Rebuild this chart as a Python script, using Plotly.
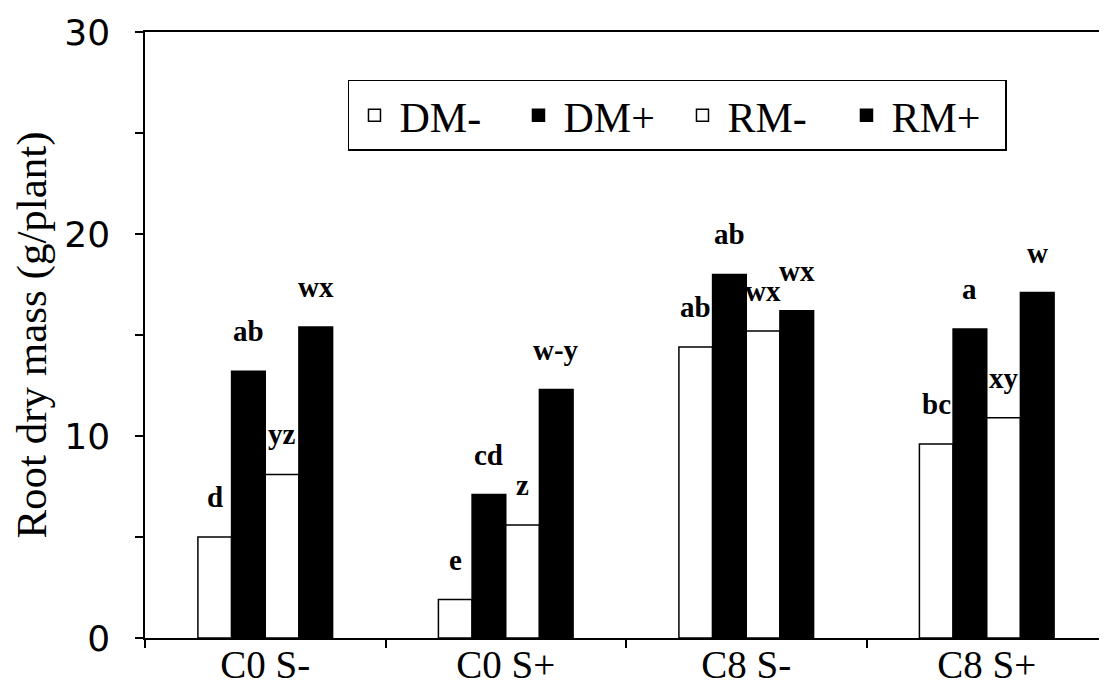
import plotly.graph_objects as go

categories = ["C0 S-", "C0 S+", "C8 S-", "C8 S+"]
series_names = ["DM-", "DM+", "RM-", "RM+"]
dm_minus = [5.0, 1.9, 14.4, 9.6]
dm_plus = [13.2, 7.1, 18.0, 15.3]
rm_minus = [8.1, 5.6, 15.2, 10.9]
rm_plus = [15.4, 12.3, 16.2, 17.1]
letters_dm_minus = ["d", "e", "ab", "bc"]
letters_dm_plus = ["ab", "cd", "ab", "a"]
letters_rm_minus = ["yz", "z", "wx", "xy"]
letters_rm_plus = ["wx", "w-y", "wx", "w"]
y_ticks = [0, 10, 20, 30]

series_values = [dm_minus, dm_plus, rm_minus, rm_plus]
series_letters = [letters_dm_minus, letters_dm_plus, letters_rm_minus, letters_rm_plus]
fills = ["white", "black", "white", "black"]

FONT = "Liberation Serif, Times New Roman, serif"
NUMFONT = "DejaVu Sans, sans-serif"
BARGAP = 0.44

fig = go.Figure()
for name, vals, fc in zip(series_names, series_values, fills):
    fig.add_trace(go.Bar(
        x=categories, y=vals, name=name,
        marker=dict(color=fc, line=dict(color="black", width=1.5)),
    ))

# significance letters above bars
n = len(series_names)
bw = (1 - BARGAP) / n
for k, (vals, labs) in enumerate(zip(series_values, series_letters)):
    for i, (v, lab) in enumerate(zip(vals, labs)):
        fig.add_annotation(
            x=i + (k - (n - 1) / 2) * bw, y=v, xref="x", yref="y",
            text=lab, showarrow=False, yanchor="bottom", yshift=22,
            font=dict(family=FONT, size=29, color="black", weight="bold"),
        )

# the page body adds an 8 px offset, so the figure is sized to fit inside it
fig.update_layout(
    width=1099, height=682,
    margin=dict(l=137, r=0, t=24, b=52, autoexpand=False),
    paper_bgcolor="white", plot_bgcolor="white",
    barmode="group", bargap=BARGAP, bargroupgap=0,
    font=dict(family=FONT, color="black"),
    showlegend=True,
    legend=dict(
        orientation="h", x=0.211, y=0.921, xanchor="left", yanchor="top",
        bordercolor="black", borderwidth=1.5, bgcolor="white",
        font=dict(family=FONT, size=42, color="black"),
        itemwidth=40, entrywidth=109, tracegroupgap=0,
    ),
)
fig.update_xaxes(
    type="category", range=[-0.5, 3.5], automargin=False,
    showline=True, linecolor="black", linewidth=1.5, mirror=True,
    ticks="outside", tickson="boundaries", ticklen=8, tickcolor="black", tickwidth=1.5,
    tickfont=dict(family=FONT, size=39, color="black"),
    ticklabelstandoff=-9,
    showgrid=False, zeroline=False,
)
fig.update_yaxes(
    range=[0, 30], tickvals=y_ticks, automargin=False,
    showline=True, linecolor="black", linewidth=1.5,
    ticks="outside", ticklen=8, tickcolor="black", tickwidth=1.5,
    minor=dict(ticks="outside", dtick=5, ticklen=8, tickcolor="black", tickwidth=1.5, showgrid=False),
    tickfont=dict(family=NUMFONT, size=36, color="black"),
    ticklabelstandoff=18,
    showgrid=False, zeroline=False,
    title=dict(text="Root dry mass (g/plant)", font=dict(family=FONT, size=43, color="black"), standoff=6),
)

fig.write_html("out.html")
